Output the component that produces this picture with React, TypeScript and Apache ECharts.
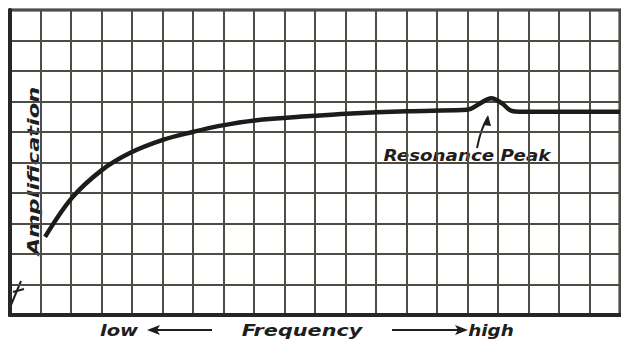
import React, { useEffect, useRef } from "react";
import * as echarts from "echarts";

// Frequency (grid columns, low -> high) and amplification (grid rows)
const freqX = [1.15, 2.03, 3.01, 3.93, 5.01, 5.99, 6.87, 8.02, 9.98, 11.03, 13.0, 14.83, 15.1, 15.4, 15.78, 16.14, 16.46, 17.02, 20];
const ampY = [2.56, 3.84, 4.75, 5.31, 5.74, 6.0, 6.2, 6.38, 6.53, 6.6, 6.68, 6.72, 6.76, 6.93, 7.11, 6.93, 6.69, 6.66, 6.66];

const xTitleLow = "low";
const xTitleMid = "Frequency";
const xTitleHigh = "high";
const yTitle = "Amplification";
const peakLabel = "Resonance Peak";

const INK = "#1e1e1c";
const GRIDC = "#4d4d45";
const FONT = "DejaVu Sans";

export default function App() {
  const ref = useRef<HTMLDivElement>(null);
  useEffect(() => {
    if (!ref.current) return;
    const chart = echarts.init(ref.current, undefined, { renderer: "svg" });
    const data = freqX.map((x, i) => [x, ampY[i]]);
    const txt = (text: string, x: number, y: number, size: number, sx: number, extra: any = {}) => ({
      type: "text",
      x,
      y,
      scaleX: sx,
      ...extra,
      style: {
        text,
        fill: INK,
        fontSize: size,
        fontStyle: "italic",
        fontWeight: "bold",
        fontFamily: FONT,
        textAlign: "center",
        textVerticalAlign: "middle",
      },
    });
    chart.setOption({
      animation: false,
      backgroundColor: "#ffffff",
      grid: {
        left: 10,
        top: 10,
        right: 1,
        bottom: 26,
        show: true,
        borderColor: "#2a2a26",
        borderWidth: 3,
      },
      xAxis: {
        type: "value",
        min: 0,
        max: 20,
        interval: 1,
        axisLabel: { show: false },
        axisTick: { show: false },
        axisLine: { show: true, lineStyle: { color: "#262622", width: 4 } },
        splitLine: { show: true, lineStyle: { color: GRIDC, width: 2 } },
      },
      yAxis: {
        type: "value",
        min: 0,
        max: 10,
        interval: 1,
        axisLabel: { show: false },
        axisTick: { show: false },
        axisLine: { show: true, lineStyle: { color: "#262622", width: 4 } },
        splitLine: { show: true, lineStyle: { color: GRIDC, width: 2 } },
      },
      series: [
        {
          type: "line",
          data,
          smooth: 0.35,
          symbol: "none",
          lineStyle: { color: "#1c1c1a", width: 4.5 },
        },
      ],
      graphic: [
        { type: "rect", shape: { x: 29, y: 86, width: 11, height: 172 }, style: { fill: "#ffffff" } },
        txt(yTitle, 34, 171, 15, 1.5, { rotation: Math.PI / 2 }),
        txt(peakLabel, 467, 156, 15, 1.22),
        {
          type: "bezierCurve",
          shape: { x1: 477, y1: 148, x2: 488, y2: 117, cpx1: 481, cpy1: 128 },
          style: { stroke: INK, lineWidth: 2, fill: "none" },
        },
        {
          type: "polygon",
          shape: { points: [[483, 125], [488, 115], [491, 126]] },
          style: { fill: INK },
        },
        txt(xTitleLow, 119, 330, 16, 1.22),
        { type: "line", shape: { x1: 152, y1: 330, x2: 212, y2: 330 }, style: { stroke: INK, lineWidth: 2 } },
        { type: "polygon", shape: { points: [[147, 330], [160, 325], [157, 330], [160, 335]] }, style: { fill: INK } },
        txt(xTitleMid, 302, 330, 16, 1.3),
        { type: "line", shape: { x1: 392, y1: 330, x2: 462, y2: 330 }, style: { stroke: INK, lineWidth: 2 } },
        { type: "polygon", shape: { points: [[468, 330], [455, 325], [458, 330], [455, 335]] }, style: { fill: INK } },
        txt(xTitleHigh, 491, 330, 16, 1.15),
        { type: "line", shape: { x1: 11, y1: 305, x2: 21, y2: 281 }, style: { stroke: INK, lineWidth: 2 } },
        { type: "line", shape: { x1: 13, y1: 292, x2: 24, y2: 289 }, style: { stroke: INK, lineWidth: 2 } },
      ],
    });
    return () => chart.dispose();
  }, []);
  return (
    <div
      ref={ref}
      style={{ position: "absolute", left: 0, top: 0, width: 621, height: 341 }}
    />
  );
}
